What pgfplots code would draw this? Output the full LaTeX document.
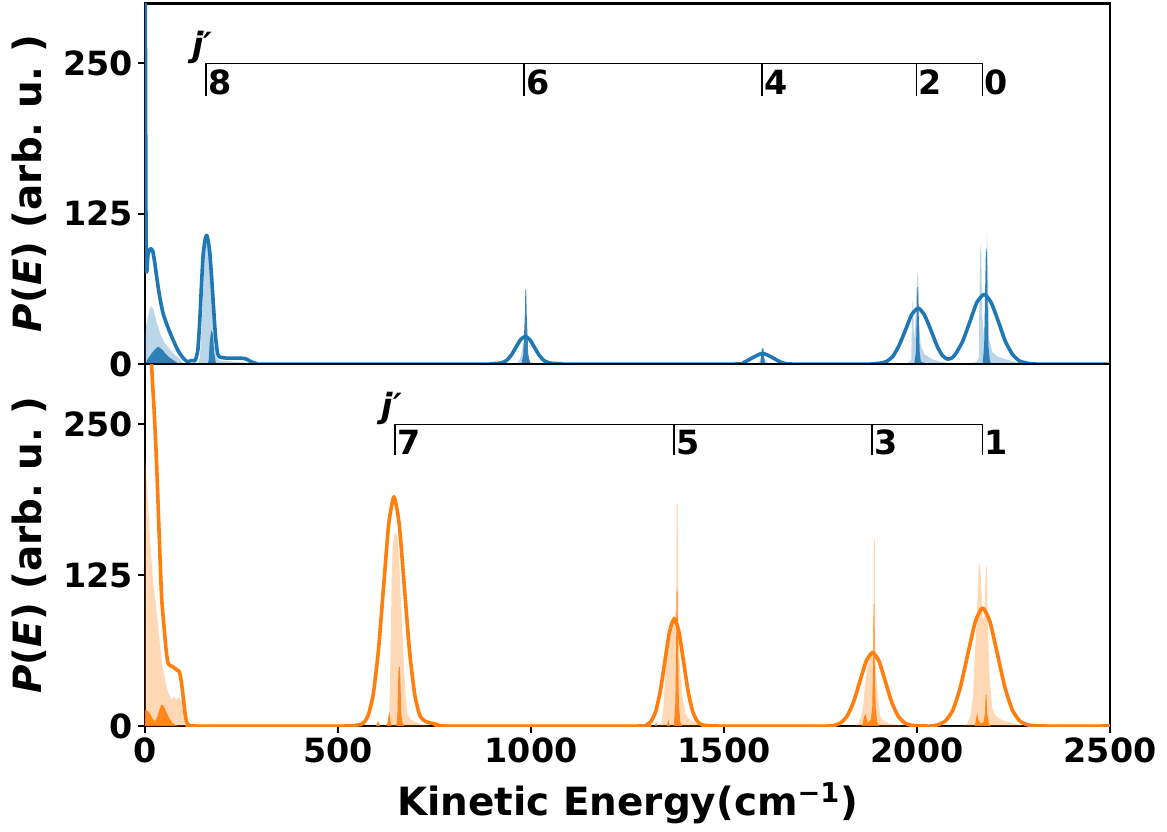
\documentclass[border=0pt]{standalone}
\usepackage{fontspec}
\setmainfont{DejaVu Sans}
\usepackage{pgfplots}
\pgfplotsset{compat=1.18}
\definecolor{cA}{HTML}{1F77B4}
\definecolor{cB}{HTML}{FF7F0E}
\newcommand{\tickfont}{\fontsize{24}{28}\selectfont\bfseries}
\newcommand{\labfont}{\fontsize{28}{32}\selectfont\bfseries}
\tikzset{lev/.style={anchor=base west, font=\tickfont, inner sep=0pt, xshift=1.5pt}}
\pgfplotsset{
  panel/.style={
    scale only axis, width=694.8pt,
    xmin=0, xmax=2500, ymin=0, ymax=300,
    ytick={0,125,250},
    axis line style={line width=2pt},
    tick align=outside, tick pos=left,
    major tick length=5pt,
    every tick/.style={black, line width=1.4pt},
    tick label style={font=\tickfont},
    /pgf/number format/assume math mode=true,
    /pgf/number format/1000 sep={},
    ylabel={\textit{P}(\textit{E}) (arb.\ u.\ )},
    ylabel style={font=\labfont, at={(axis description cs:-0.1195,0.5)}, anchor=center},
  },
  light/.style={draw=none, fill=#1, fill opacity=0.3},
  dark/.style={draw=none, fill=#1, fill opacity=0.9},
  curve/.style={draw=#1, line width=2.6pt, line join=round, smooth, tension=0.35},
}
\begin{document}
\begin{tikzpicture}
% ---------------- top panel ----------------
\begin{axis}[panel, at={(0,260.6pt)}, anchor=south west, height=259.9pt, xtick=\empty]
\addplot[light=cA] coordinates {
(0,0) (0,25) (5,35) (12,46) (17,48) (22,45) (30,35) (40,25) (50,18) (60,14) (70,10) (80,7) (90,4) (99,1) (105,0)
(135,0) (142,5) (147,30) (152,70) (156,95) (160,100) (164,98) (168,90) (172,70) (176,40) (180,15) (185,5) (195,3) (230,2) (270,1) (290,0)
(960,0) (970,3) (975,8) (978,15) (982,17) (986,18) (988,10) (992,5) (1000,2) (1010,0)
(1585,0) (1595,4) (1600,12) (1604,5) (1612,1) (1620,0)
(1960,0) (1975,1) (1985,3) (1988,50) (1990,53) (1992,20) (1995,30) (1999,65) (2001,76) (2003,70) (2005,35) (2010,15) (2020,8) (2040,4) (2060,2) (2080,1) (2140,1) (2155,2) (2160,5) (2163,90) (2166,101) (2169,40) (2174,20) (2178,60) (2181,109) (2184,80) (2187,20) (2195,10) (2210,6) (2240,3) (2270,1) (2290,0)
} \closedcycle;
\addplot[dark=cA] coordinates {
(0,0) (5,3) (15,8) (25,12) (34,14.5) (45,12) (55,8) (65,5) (75,3) (86,0.5) (90,0)
(162,0) (165,3) (168,20) (172,28) (176,25) (179,10) (183,2) (187,0)
(975,0) (980,8) (984,40) (985.5,62) (987.5,62) (989,40) (993,8) (998,0)
(1594,0) (1598,13) (1602,13) (1606,0)
(1993,0) (1997,10) (1999.5,40) (2001,64) (2003,64) (2004.5,40) (2007,10) (2010,2) (2020,1) (2030,0)
(2170,0) (2174,15) (2177,70) (2178.5,96) (2180.5,96) (2182,70) (2185,15) (2189,2) (2195,0)
} \closedcycle;
\addplot[curve=cA] coordinates {
(0,400) (3,89) (8,92) (14,96) (20,94) (25,85) (30,73) (38,56) (47,42) (60,30) (73,20) (86,11) (99,5) (110,2) (121,3) (130,3)
(137,12) (142,37) (147,70) (151,92) (156,104) (160,107) (164,102) (168,92) (173,70) (178,45) (183,22) (188,9) (193,6)
(210,5) (240,5) (260,4.5) (275,2) (290,0.3) (310,0) (870,0) (895,0.3) (913,0.6) (925,1.2) (937,3.1) (949,7.5) (961,13.9)
(973,20.3) (985,23) (997,20.3) (1009,13.9) (1021,7.5) (1033,3.1) (1045,1.2) (1057,0.6) (1080,0.3) (1100,0)
(1520,0) (1550,1.2) (1575,5.5) (1600,9) (1625,5.5) (1650,1.2) (1680,0)
(1870,0) (1890,0.3) (1904,0.8) (1920,2.0) (1937,6.3) (1953,15.1) (1970,28.2) (1986,41) (2003,46.5) (2019,41) (2036,28.2)
(2052,15.1) (2065,7.5) (2078,4.2) (2090,5) (2100,8.5) (2118,18.8) (2137,35.2) (2155,51.2) (2174,58) (2192,51.2)
(2211,35.2) (2229,18.8) (2248,7.8) (2266,2.5) (2285,0.8) (2300,0.2) (2320,0) (2500,0)
};
\draw[line width=1pt] (axis cs:158,250) -- (axis cs:2170,250);
\draw[line width=1pt] (axis cs:158,250) -- (axis cs:158,223);
\draw[line width=1pt] (axis cs:982,250) -- (axis cs:982,223);
\draw[line width=1pt] (axis cs:1598,250) -- (axis cs:1598,223);
\draw[line width=1pt] (axis cs:1999,250) -- (axis cs:1999,223);
\draw[line width=1pt] (axis cs:2170,250) -- (axis cs:2170,223);
\node[lev] at (axis cs:158,224) {8};
\node[lev] at (axis cs:982,224) {6};
\node[lev] at (axis cs:1598,224) {4};
\node[lev] at (axis cs:1999,224) {2};
\node[lev] at (axis cs:2170,224) {0};
\node[anchor=base, font=\tickfont, inner sep=0pt] at (axis cs:148,256) {\textit{j′}};
\end{axis}
% ---------------- bottom panel ----------------
\begin{axis}[panel, at={(0,0)}, anchor=south west, height=260.6pt,
  xtick={0,500,1000,1500,2000,2500},
  xlabel={Kinetic Energy(cm\textsuperscript{−1})},
  xlabel style={font=\labfont, at={(axis description cs:0.5,-0.2127)}, anchor=center}]
\addplot[light=cB] coordinates {
(0,0) (0,224) (7,190) (14,150) (21,120) (30,95) (38,70) (45,50) (52,38) (60,28) (68,22) (75,24) (82,22) (88,24) (95,20) (100,8) (104,0)
(620,0) (628,3) (633,10) (636,60) (639,120) (642,150) (646,158) (650,160) (654,157) (658,140) (662,110) (666,85) (670,55) (675,25) (680,10) (690,5) (710,2) (740,0)
(1330,0) (1338,3) (1343,15) (1350,55) (1356,75) (1362,86) (1368,90) (1373,92) (1376,100) (1377.5,184) (1380.5,184) (1382,80) (1386,45) (1392,25) (1400,10) (1415,4) (1440,1) (1460,0)
(1840,0) (1848,3) (1855,8) (1860,16) (1866,35) (1872,50) (1878,57) (1884,60) (1887,70) (1888,155) (1890.5,155) (1892,60) (1895,40) (1900,20) (1905,8) (1915,4) (1930,2) (1950,1) (1970,0)
(2120,0) (2130,2) (2138,8) (2145,25) (2150,60) (2155,90) (2158,120) (2160,134) (2163,134) (2166,120) (2170,90) (2174,88) (2177,120) (2179,132) (2181,132) (2183,90) (2188,40) (2195,15) (2205,8) (2220,5) (2240,3) (2265,1) (2280,0)
} \closedcycle;
\addplot[dark=cB] coordinates {
(0,0) (0,13) (5,13) (12,11) (20,6) (26,4) (32,8) (38,14) (43,18) (48,17) (55,12) (62,7) (70,3) (78,1) (85,0)
(598,0) (604,4) (610,0) (627,0) (633,12) (638,0) (651,0) (654,10) (656.5,45) (658,49) (660,49) (661.5,40) (664,10) (667,3) (672,0)
(1320,0) (1324,3) (1328,0) (1352,0) (1356,5) (1360,0) (1370,0) (1374,20) (1376.5,80) (1377.5,112) (1379.5,112) (1380.5,80) (1383,20) (1387,3) (1392,0)
(1858,0) (1863,8) (1867,10) (1872,3) (1880,5) (1884,15) (1886.5,50) (1887.5,101) (1889.5,101) (1890.5,50) (1893,15) (1897,3) (1902,0)
(2150,0) (2153,6) (2156,11) (2159,5) (2165,2) (2172,3) (2176,10) (2178,26) (2180,26) (2182,10) (2186,2) (2192,0)
} \closedcycle;
\addplot[curve=cB] coordinates {
(0,600) (10,400) (17,302) (24,260) (30,218) (36,165) (43,107) (50,80) (55,62) (60,52) (66,50) (73,49) (80,47) (89,45) (94,37) (99,24) (104,10) (108,3) (115,0.5) (130,0)
(520,0) (545,0.6) (564,2.1) (577.5,8.3) (591,25.7) (604.5,61.7) (618,115) (631.5,167.7) (645,190) (658.5,167.7) (672,115) (685.5,61.7) (699,25.7) (712.5,8.3) (726,4) (740,2.5) (760,1) (780,0)
(1280,0) (1299,1.0) (1311,3.9) (1323,12.0) (1335,28.9) (1347,54) (1359,78.5) (1371,89) (1383,78.5) (1395,54) (1407,28.9) (1419,12.0) (1431,3.9) (1443,1.0) (1460,0.3) (1480,0)
(1770,0) (1786,0.7) (1802.5,2.7) (1819,8.3) (1835.5,19.8) (1852,37) (1868.5,53.8) (1885,61) (1901.5,53.8) (1918,37) (1934.5,19.8) (1951,8.3) (1967.5,2.7) (1984,0.7) (2000,0.2) (2035,0)
(2054.5,1.1) (2074,4.3) (2093,13.3) (2112,31.8) (2131.5,59.4) (2151,86.5) (2170,98) (2189,86.5) (2208.5,59.4) (2228,31.8) (2247,13.3) (2266,4.3) (2285.5,1.1) (2305,0.3) (2330,0) (2500,0)
};
\draw[line width=1pt] (axis cs:648,250) -- (axis cs:2170,250);
\draw[line width=1pt] (axis cs:648,250) -- (axis cs:648,225);
\draw[line width=1pt] (axis cs:1370,250) -- (axis cs:1370,225);
\draw[line width=1pt] (axis cs:1883,250) -- (axis cs:1883,225);
\draw[line width=1pt] (axis cs:2170,250) -- (axis cs:2170,225);
\node[lev] at (axis cs:648,225) {7};
\node[lev] at (axis cs:1370,225) {5};
\node[lev] at (axis cs:1883,225) {3};
\node[lev] at (axis cs:2170,225) {1};
\node[anchor=base, font=\tickfont, inner sep=0pt] at (axis cs:640,256) {\textit{j′}};
\end{axis}
\pgfresetboundingbox
\path[use as bounding box] (-104.4pt,-75.6pt) rectangle (735.84pt,522.76pt);
\end{tikzpicture}
\end{document}
